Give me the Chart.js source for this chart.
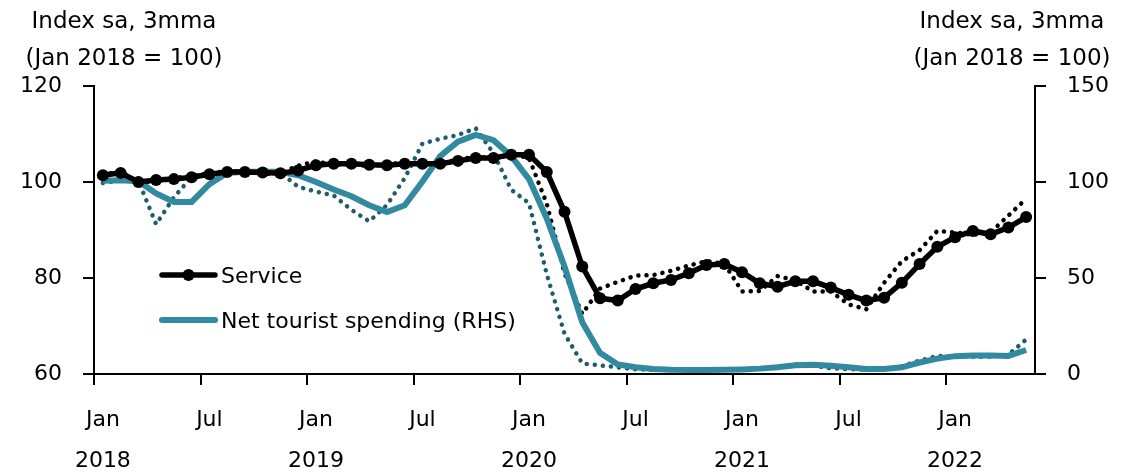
<!DOCTYPE html>
<html>
<head>
<meta charset="utf-8">
<title>Service and net tourist spending</title>
<script src="https://cdn.jsdelivr.net/npm/chart.js@4.4.1/dist/chart.umd.min.js"></script>
<style>
  html, body { margin: 0; padding: 0; background: #fff; }
  #wrap { width: 1133px; height: 473px; }
</style>
</head>
<body>
<div id="wrap"><canvas id="chart" width="1133" height="473"></canvas></div>
<script>
// monthly categories, Jan 2018 - May 2022
const months = [
  'Jan 2018', 'Feb 2018', 'Mar 2018', 'Apr 2018', 'May 2018', 'Jun 2018',
  'Jul 2018', 'Aug 2018', 'Sep 2018', 'Oct 2018', 'Nov 2018', 'Dec 2018',
  'Jan 2019', 'Feb 2019', 'Mar 2019', 'Apr 2019', 'May 2019', 'Jun 2019',
  'Jul 2019', 'Aug 2019', 'Sep 2019', 'Oct 2019', 'Nov 2019', 'Dec 2019',
  'Jan 2020', 'Feb 2020', 'Mar 2020', 'Apr 2020', 'May 2020', 'Jun 2020',
  'Jul 2020', 'Aug 2020', 'Sep 2020', 'Oct 2020', 'Nov 2020', 'Dec 2020',
  'Jan 2021', 'Feb 2021', 'Mar 2021', 'Apr 2021', 'May 2021', 'Jun 2021',
  'Jul 2021', 'Aug 2021', 'Sep 2021', 'Oct 2021', 'Nov 2021', 'Dec 2021',
  'Jan 2022', 'Feb 2022', 'Mar 2022', 'Apr 2022', 'May 2022'
];

// Service index, 3mma (LHS)
const service = [
  101.4, 101.9, 100.0, 100.4, 100.6, 101.0, 101.6, 102.1, 102.1, 102.0, 101.8, 102.4,
  103.5, 103.8, 103.8, 103.6, 103.5, 103.8, 103.8, 103.8, 104.4, 105.0, 105.0, 105.7,
  105.7, 102.1, 93.8, 82.4, 75.8, 75.3, 77.7, 78.9, 79.6, 81.0, 82.7, 82.9,
  81.2, 78.9, 78.2, 79.3, 79.3, 78.0, 76.5, 75.3, 75.9, 79.0, 82.9, 86.5,
  88.5, 89.8, 89.1, 90.5, 92.7
];

// Service index, monthly (dotted, LHS)
const serviceMonthly = [
  101.5, 102.2, 99.8, 100.3, 100.8, 101.3, 101.8, 102.3, 102.2, 101.6, 101.9, 103.4,
  104.3, 103.6, 103.7, 103.3, 103.6, 104.1, 103.6, 103.9, 104.7, 105.3, 104.9, 105.8,
  105.0, 95.5, 81.0, 72.5, 77.8, 79.2, 80.5, 80.6, 81.5, 82.6, 83.5, 83.0,
  77.2, 77.3, 80.4, 79.5, 77.2, 77.2, 74.5, 73.5, 79.0, 83.5, 85.8, 89.8,
  89.5, 89.0, 89.5, 93.0, 96.5
];

// Net tourist spending, 3mma (RHS)
const tourist = [
  100.6, 100.9, 100.4, 94.0, 89.6, 89.6, 98.9, 104.7, 105.3, 105.3, 105.3, 103.5,
  100.0, 96.1, 92.6, 87.9, 84.4, 87.9, 100.3, 113.5, 121.0, 124.5, 121.8, 113.5,
  101.5, 81.0, 56.0, 27.0, 11.0, 5.0, 3.5, 2.6, 2.2, 2.1, 2.1, 2.2,
  2.4, 2.8, 3.5, 4.5, 4.8, 4.3, 3.5, 2.6, 2.6, 3.5, 6.0, 8.0,
  9.3, 9.6, 9.6, 9.4, 12.5
];

// Net tourist spending, monthly (dotted, RHS)
const touristMonthly = [
  99.5, 100.9, 100.6, 78.0, 92.0, 102.7, 104.5, 105.5, 105.5, 105.5, 105.0, 97.5,
  95.0, 93.0, 85.5, 79.5, 88.0, 102.0, 120.0, 122.5, 124.5, 128.0, 115.0, 96.0,
  89.0, 52.0, 21.0, 5.5, 4.5, 3.5, 2.4, 2.2, 2.2, 2.2, 2.4, 2.4,
  2.5, 3.0, 3.5, 5.0, 4.3, 3.0, 2.5, 2.2, 2.8, 4.0, 7.0, 9.4,
  9.2, 9.0, 9.0, 10.0, 18.0
];

const leftTicks = [60, 80, 100, 120];
const rightTicks = [0, 50, 100, 150];
const axisTitle = ['Index sa, 3mma', '(Jan 2018 = 100)'];

const FONT = 'DejaVu Sans';
const TEAL = '#318a9f';
const TEAL_DARK = '#1f5d6d';

Chart.defaults.font.family = FONT;
Chart.defaults.color = '#000';

// axis titles above both y axes, plus the legend inside the plot
const overlay = {
  id: 'overlay',
  afterDraw(chart) {
    const ctx = chart.ctx;
    const area = chart.chartArea;
    ctx.save();
    ctx.fillStyle = '#000';
    ctx.font = '23px "' + FONT + '"';
    ctx.textAlign = 'center';
    ctx.textBaseline = 'alphabetic';
    axisTitle.forEach((t, k) => {
      ctx.fillText(t, 124, 28 + k * 37);
      ctx.fillText(t, 1012, 28 + k * 37);
    });

    const items = chart.data.datasets.filter(d => d.inLegend);
    ctx.font = '22px "' + FONT + '"';
    ctx.textAlign = 'left';
    ctx.textBaseline = 'middle';
    items.forEach((d, k) => {
      const y = area.top + 189 + k * 45;
      const x0 = area.left + 68, x1 = area.left + 121;
      ctx.strokeStyle = d.borderColor;
      ctx.lineWidth = d.borderWidth;
      ctx.lineCap = 'round';
      ctx.beginPath();
      ctx.moveTo(x0, y);
      ctx.lineTo(x1, y);
      ctx.stroke();
      if (d.pointRadius > 0) {
        ctx.fillStyle = d.pointBackgroundColor;
        ctx.beginPath();
        ctx.arc((x0 + x1) / 2, y, d.pointRadius, 0, Math.PI * 2);
        ctx.fill();
      }
      ctx.fillStyle = '#000';
      ctx.fillText(d.label, area.left + 127, y + 2);
    });
    ctx.restore();
  }
};

new Chart(document.getElementById('chart'), {
  type: 'line',
  data: {
    labels: months,
    datasets: [
      {
        label: 'Service',
        data: service,
        yAxisID: 'y',
        borderColor: '#000',
        borderWidth: 5.5,
        pointRadius: 6,
        pointBackgroundColor: '#000',
        pointBorderWidth: 0,
        tension: 0,
        order: 0,
        inLegend: true
      },
      {
        label: 'Net tourist spending (RHS)',
        data: tourist,
        yAxisID: 'y1',
        borderColor: TEAL,
        borderWidth: 6,
        pointRadius: 0,
        tension: 0,
        order: 1,
        inLegend: true
      },
      {
        label: 'Service (monthly)',
        data: serviceMonthly,
        yAxisID: 'y',
        borderColor: '#000',
        borderWidth: 4.5,
        borderDash: [0.1, 8],
        borderCapStyle: 'round',
        pointRadius: 0,
        tension: 0,
        order: 2
      },
      {
        label: 'Net tourist spending (monthly)',
        data: touristMonthly,
        yAxisID: 'y1',
        borderColor: TEAL_DARK,
        borderWidth: 4.5,
        borderDash: [0.1, 8],
        borderCapStyle: 'round',
        pointRadius: 0,
        tension: 0,
        order: 3
      }
    ]
  },
  options: {
    responsive: false,
    animation: false,
    devicePixelRatio: 1,
    layout: { padding: { top: 86, left: 0, right: 0, bottom: 0 } },
    plugins: {
      legend: { display: false },
      tooltip: { enabled: false }
    },
    scales: {
      x: {
        type: 'category',
        offset: true,
        grid: {
          offset: true,
          drawOnChartArea: false,
          drawTicks: true,
          tickLength: 11,
          lineWidth: 2,
          color: ctx => (ctx.index % 6 === 0 ? '#000' : 'rgba(0,0,0,0)')
        },
        border: { display: true, color: '#000', width: 2 },
        ticks: {
          autoSkip: false,
          maxRotation: 0,
          minRotation: 0,
          padding: 14,
          color: '#000',
          font: { size: 22, lineHeight: 1.9 },
          callback: function (value, index) {
            const parts = months[index].split(' ');
            if (parts[0] === 'Jan') return [parts[0], parts[1]];
            if (parts[0] === 'Jul') return parts[0];
            return '';
          }
        },
        afterFit: s => { s.height = 99; }
      },
      y: {
        type: 'linear',
        position: 'left',
        min: 60,
        max: 120,
        afterBuildTicks: s => { s.ticks = leftTicks.map(v => ({ value: v })); },
        grid: { drawOnChartArea: false, tickLength: 11, lineWidth: 2, color: '#000' },
        border: { display: true, color: '#000', width: 2 },
        ticks: { padding: 21, color: '#000', font: { size: 22 } },
        afterFit: s => { s.width = 94; }
      },
      y1: {
        type: 'linear',
        position: 'right',
        min: 0,
        max: 150,
        afterBuildTicks: s => { s.ticks = rightTicks.map(v => ({ value: v })); },
        grid: { drawOnChartArea: false, tickLength: 11, lineWidth: 2, color: '#000' },
        border: { display: true, color: '#000', width: 2 },
        ticks: { padding: 21, color: '#000', font: { size: 22 } },
        afterFit: s => { s.width = 98; }
      }
    }
  },
  plugins: [overlay]
});
</script>
</body>
</html>
